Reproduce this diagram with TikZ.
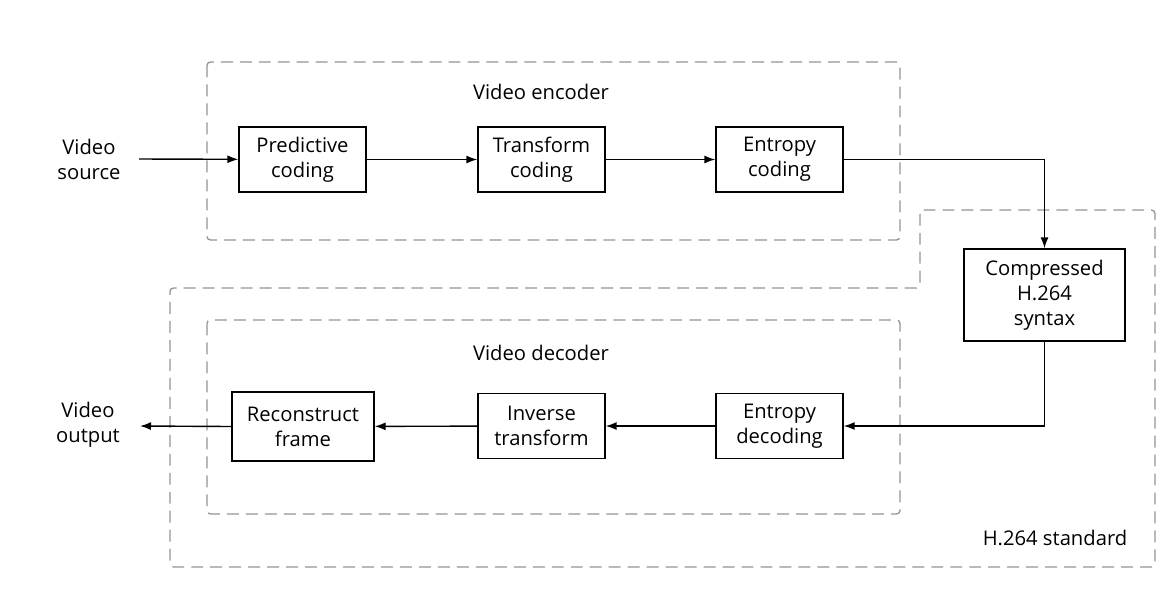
\documentclass[tikz,border=0pt]{standalone}
\usepackage{fontspec}
\setmainfont{Open Sans}
\usetikzlibrary{arrows.meta}
\begin{document}
\begin{tikzpicture}[x=0.02cm,y=-0.02cm,
    font=\fontsize{11.5}{14.2}\selectfont,
    block/.style={draw,line width=0.8pt,align=center,inner sep=0pt,
      minimum width=2.54cm,minimum height=1.3cm},
    label/.style={align=center,inner sep=0pt},
    group/.style={draw=black!42,line width=0.75pt,dash pattern=on 6.8pt off 4pt,rounded corners=2pt},
    flow/.style={line width=0.8pt,-{Latex[length=2.2mm,width=1.6mm]}}]
  \useasboundingbox (0,0) rectangle (1173,596);
  % dashed groups
  \draw[group] (207,62) rectangle (900,240);
  \draw[group] (207,320) rectangle (900,514);
  \draw[group] (920,210) -- (1155,210) -- (1155,567) -- (170,567)
    -- (170,288) -- (920,288) -- cycle;
  \draw
    (541,92) node[label] (enc){Video encoder}
    (541,353) node[label] (dec){Video decoder}
    (1055,538) node[label] (std){H.264 standard}
    (89,159) node[label] (src){Video\\source}
    (88,425) node[label] (out){Video\\output};
  \draw
    (302.5,159.5) node[block] (pred){Predictive\\coding}
    (541.5,159.5) node[block] (trans){Transform\\coding}
    (779.5,159.5) node[block] (ent){Entropy\\coding}
    (1044.5,295) node[block,minimum width=3.22cm,minimum height=1.84cm] (syn){Compressed\\H.264\\syntax}
    (779.5,426) node[block] (edec){Entropy\\decoding}
    (541.5,426) node[block] (inv){Inverse\\transform}
    (303,426.5) node[block,minimum width=2.84cm,minimum height=1.38cm] (rec){Reconstruct\\frame};
  \coordinate (srcend) at (139,159);
  \coordinate (outend) at (140,426);
  \begin{scope}[flow]
    \draw (srcend) to (pred);
    \draw (pred) to (trans);
    \draw (trans) to (ent);
    \draw (ent.east) -| (syn.north);
    \draw (syn.south) |- (edec.east);
    \draw (edec) to (inv);
    \draw (inv) to (rec);
    \draw (rec.west) -- (outend);
  \end{scope}
\end{tikzpicture}
\end{document}
